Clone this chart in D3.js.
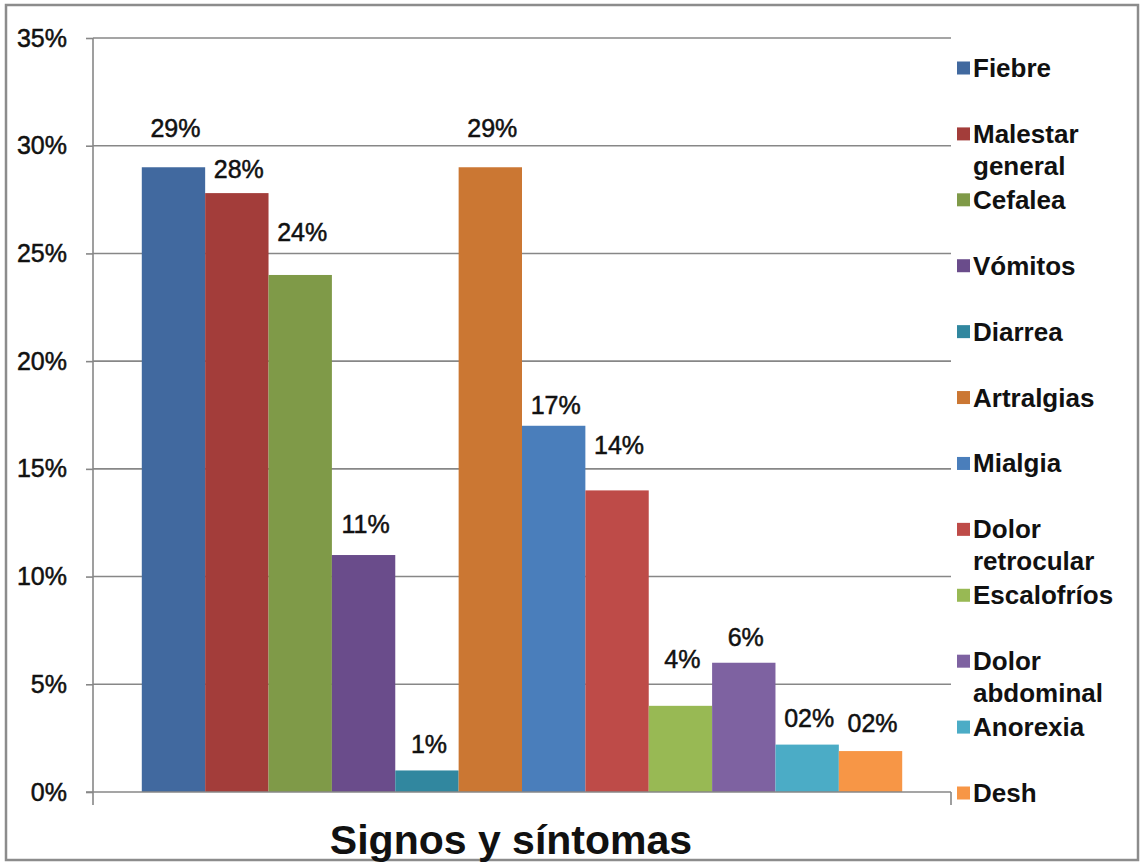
<!DOCTYPE html>
<html>
<head>
<meta charset="utf-8">
<script src="https://cdn.jsdelivr.net/npm/d3@7"></script>
<style>
  html, body { margin: 0; padding: 0; background: #fff; }
  svg { display: block; font-family: "Liberation Sans", Arial, sans-serif; }
</style>
</head>
<body>
<svg id="chart" width="1142" height="864"></svg>
<script>
// Signs and symptoms (share of patients)
const symptoms = ["Fiebre", "Malestar general", "Cefalea", "Vómitos", "Diarrea", "Artralgias",
                  "Mialgia", "Dolor retrocular", "Escalofríos", "Dolor abdominal", "Anorexia", "Desh"];
const values = [0.29, 0.278, 0.24, 0.11, 0.01, 0.29, 0.17, 0.14, 0.04, 0.06, 0.022, 0.019];
const valueLabels = ["29%", "28%", "24%", "11%", "1%", "29%", "17%", "14%", "4%", "6%", "02%", "02%"];
const legendLines = [["Fiebre"], ["Malestar", "general"], ["Cefalea"], ["Vómitos"], ["Diarrea"], ["Artralgias"],
                     ["Mialgia"], ["Dolor", "retrocular"], ["Escalofríos"], ["Dolor", "abdominal"], ["Anorexia"], ["Desh"]];
const colors = ["#41699f", "#a33d3a", "#7f9a48", "#6a4c8b", "#31879f", "#cb7733",
                "#4a7ebb", "#be4b48", "#98b954", "#7e62a1", "#4bacc6", "#f79646"];
const yTicks = [0, 0.05, 0.10, 0.15, 0.20, 0.25, 0.30, 0.35];

// how far each value label sits above its bar (px); labels were placed by hand
const labelLift = [30, 15, 34, 22, 17, 30, 12, 36, 38, 17, 18, 19];

const svg = d3.select("#chart");
const plot = { left: 93, right: 951, top: 38, bottom: 792 };
const gridColor = "#878787";
const ink = "#111";

// outer frame
svg.append("rect")
  .attr("x", 6).attr("y", 5).attr("width", 1132).attr("height", 855)
  .attr("fill", "#fff").attr("stroke", "#8c8c8c").attr("stroke-width", 2.5);

const y = d3.scaleLinear().domain([0, 0.35]).range([plot.bottom, plot.top]);
const x = d3.scaleBand().domain(symptoms).range([plot.left, plot.right])
  .paddingInner(0).paddingOuter(0.77);

// gridlines
svg.append("g").selectAll("line").data(yTicks.slice(1)).join("line")
  .attr("x1", plot.left).attr("x2", plot.right)
  .attr("y1", d => y(d)).attr("y2", d => y(d))
  .attr("stroke", gridColor).attr("stroke-width", 1.6);

// y axis
const yAxis = d3.axisLeft(y).tickValues(yTicks).tickFormat(d3.format(".0%"))
  .tickSize(7).tickPadding(19);
const gy = svg.append("g").attr("transform", `translate(${plot.left},0)`).call(yAxis)
  .attr("font-family", "'Liberation Sans', Arial, sans-serif");
gy.select(".domain").remove();
gy.selectAll(".tick line").attr("stroke", gridColor).attr("stroke-width", 1.6);
gy.selectAll(".tick text")
  .attr("font-size", 25).attr("fill", ink)
  .attr("stroke", ink).attr("stroke-width", 0.5);
svg.append("line")
  .attr("x1", plot.left).attr("x2", plot.left)
  .attr("y1", plot.top).attr("y2", plot.bottom + 13)
  .attr("stroke", gridColor).attr("stroke-width", 1.6);

// bars
svg.append("g").selectAll("rect").data(symptoms).join("rect")
  .attr("x", d => x(d))
  .attr("width", x.bandwidth())
  .attr("y", (d, i) => y(values[i]))
  .attr("height", (d, i) => y(0) - y(values[i]))
  .attr("fill", (d, i) => colors[i]);

// category axis
svg.append("line")
  .attr("x1", plot.left - 7).attr("x2", plot.right)
  .attr("y1", plot.bottom).attr("y2", plot.bottom)
  .attr("stroke", gridColor).attr("stroke-width", 1.6);
svg.append("line")
  .attr("x1", plot.right).attr("x2", plot.right)
  .attr("y1", plot.bottom).attr("y2", plot.bottom + 13)
  .attr("stroke", gridColor).attr("stroke-width", 1.6);

// value labels
svg.append("g").selectAll("text").data(symptoms).join("text")
  .attr("x", d => x(d) + x.bandwidth() / 2 + 2)
  .attr("y", (d, i) => y(values[i]) - labelLift[i])
  .attr("text-anchor", "middle")
  .attr("font-size", 25).attr("fill", ink)
  .attr("stroke", ink).attr("stroke-width", 0.5)
  .text((d, i) => valueLabels[i]);

// legend
const legendY = d3.scalePoint().domain(symptoms).range([68, 793]);
const leg = svg.append("g").selectAll("g").data(symptoms).join("g")
  .attr("transform", d => `translate(957,${legendY(d)})`);
leg.append("rect")
  .attr("x", 0).attr("y", -6.5).attr("width", 13).attr("height", 13)
  .attr("fill", (d, i) => colors[i]);
leg.append("text")
  .attr("x", 16).attr("y", 9)
  .attr("font-size", 26).attr("font-weight", "bold").attr("fill", ink)
  .selectAll("tspan").data((d, i) => legendLines[i]).join("tspan")
  .attr("x", 16).attr("dy", (d, j) => j === 0 ? 0 : 32)
  .text(d => d);

// axis title
svg.append("text")
  .attr("x", 511).attr("y", 854)
  .attr("text-anchor", "middle")
  .attr("font-size", 41).attr("font-weight", "bold").attr("fill", ink)
  .text("Signos y síntomas");
</script>
</body>
</html>
